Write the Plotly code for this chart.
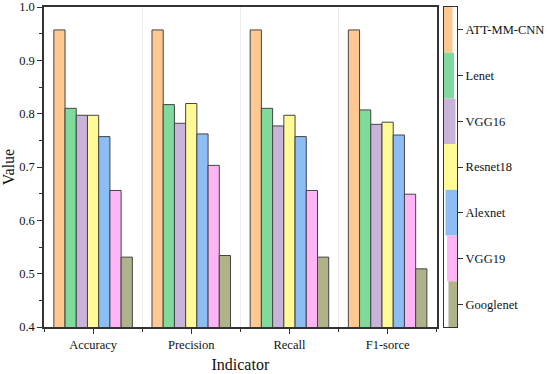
import plotly.graph_objects as go

indicators = ["Accuracy", "Precision", "Recall", "F1-sorce"]
models = ["ATT-MM-CNN", "Lenet", "VGG16", "Resnet18", "Alexnet", "VGG19", "Googlenet"]
colors = ["#FFC891", "#7FDA9B", "#C8B3D9", "#FFFA96", "#8CBDF5", "#FFB4F5", "#B0B38A"]

att_mm_cnn = [0.957, 0.957, 0.957, 0.957]
lenet = [0.810, 0.817, 0.810, 0.807]
vgg16 = [0.797, 0.782, 0.777, 0.780]
resnet18 = [0.797, 0.819, 0.797, 0.784]
alexnet = [0.757, 0.762, 0.757, 0.760]
vgg19 = [0.656, 0.703, 0.656, 0.649]
googlenet = [0.531, 0.534, 0.531, 0.509]

series = [att_mm_cnn, lenet, vgg16, resnet18, alexnet, vgg19, googlenet]

FONT = "Liberation Serif"
LINE = "#333333"

fig = go.Figure()
xs = list(range(len(indicators)))
for name, vals, col in zip(models, series, colors):
    fig.add_trace(go.Bar(
        x=xs, y=vals, name=name, marker=dict(color=col, line=dict(color="#444444", width=1)),
        showlegend=False, xaxis="x", yaxis="y"))

# colour key drawn as a stacked bar on its own axis
n = len(models)
for i, (name, col) in enumerate(zip(models, colors)):
    fig.add_trace(go.Bar(
        x=[0], y=[1], base=[n - 1 - i], marker=dict(color=col, line=dict(width=0)),
        width=1, showlegend=False, xaxis="x2", yaxis="y2", hoverinfo="skip"))

W, H = 550, 374
L, R, T, B = 44, 0, 7, 47
pw = W - L - R
x0, x1 = 44, 436.7
k0, k1 = 444, 457

fig.update_layout(
    width=W, height=H,
    margin=dict(l=L, r=R, t=T, b=B, autoexpand=False),
    paper_bgcolor="white", plot_bgcolor="white",
    barmode="group", bargap=0.2, bargroupgap=0,
    font=dict(family=FONT, size=12, color="#111111"),
    xaxis=dict(
        domain=[(x0 - L) / pw, (x1 - L) / pw], automargin=False,
        range=[-0.5, len(indicators) - 0.5],
        tickmode="array", tickvals=xs, ticktext=indicators,
        ticks="outside", ticklen=5, tickwidth=1, tickcolor=LINE,
        showgrid=False, zeroline=False,
        showline=True, linecolor=LINE, linewidth=1.5, mirror=True,
        tickfont=dict(family=FONT, size=12.5),
        minor=dict(tickmode="array", tickvals=[-0.5, 0.5, 1.5, 2.5, 3.5], ticks="outside", ticklen=3,
                   tickcolor=LINE, showgrid=True, gridcolor="#EBEBEB", gridwidth=1),
        title=dict(text="Indicator", font=dict(family=FONT, size=16), standoff=8),
    ),
    yaxis=dict(
        range=[0.4, 1.0], dtick=0.1, tickformat=".1f", automargin=False,
        ticks="outside", ticklen=5, tickwidth=1, tickcolor=LINE,
        showgrid=False, zeroline=False,
        showline=True, linecolor=LINE, linewidth=1.5, mirror=True,
        tickfont=dict(family=FONT, size=12.5),
        minor=dict(dtick=0.05, ticks="outside", ticklen=3, tickcolor=LINE, showgrid=False),
        title=dict(text="Value", font=dict(family=FONT, size=16), standoff=6),
    ),
    xaxis2=dict(
        domain=[(k0 - L) / pw, (k1 - L) / pw], anchor="y2", automargin=False,
        range=[-0.5, 0.5], showticklabels=False, ticks="", showgrid=False, zeroline=False,
        showline=True, linecolor=LINE, linewidth=1.2, mirror=True,
    ),
    yaxis2=dict(
        anchor="x2", side="right", range=[0, n], automargin=False,
        tickmode="array", tickvals=[n - 0.5 - i for i in range(n)], ticktext=models,
        ticks="outside", ticklen=5, tickcolor=LINE, tickwidth=1,
        showgrid=False, zeroline=False,
        showline=True, linecolor=LINE, linewidth=1.2, mirror=True,
        tickfont=dict(family=FONT, size=12.5),
    ),
)

fig.write_html("out.html", config={"displayModeBar": False},
               post_script="document.body.style.margin='0';document.body.style.overflow='hidden';")
